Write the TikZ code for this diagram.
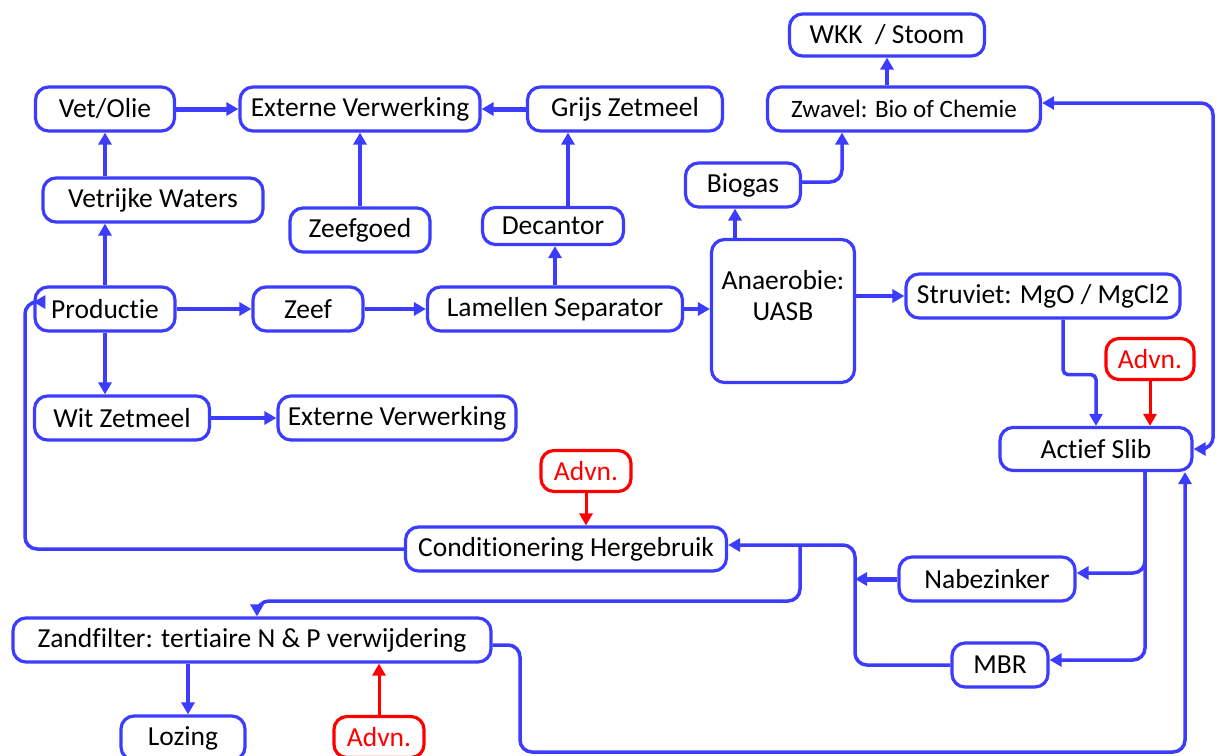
\documentclass[tikz,border=0pt]{standalone}
\usepackage{fontspec}
\setmainfont{Carlito}[Ligatures=NoCommon]
\usetikzlibrary{arrows.meta}
\definecolor{flow}{RGB}{60,60,255}
\definecolor{adv}{RGB}{255,0,0}

\begin{document}
\begin{tikzpicture}[x=1pt,y=-1pt,
  box/.style={draw=flow, line width=3.2pt, rounded corners=13pt, fill=white,
    inner sep=0pt, minimum height=44pt, align=center,
    font=\fontsize{27.5}{31}\selectfont},
  advbox/.style={box, draw=adv, text=adv, minimum width=90pt, minimum height=41pt},
  flowline/.style={draw=flow, line width=3.5pt, rounded corners=12pt,
    -{Triangle[length=12pt,width=13pt]}},
  heavyline/.style={flowline, line width=5pt},
  redline/.style={flowline, draw=adv, line width=3pt}]

\useasboundingbox (0,0) rectangle (1218,755);
\clip (0,0) rectangle (1218,755);

% ---------- process steps ----------
\node[box, minimum width=195pt, minimum height=42pt] (wkk)   at (887,35)  {WKK\ \ / Stoom};
\node[box, minimum width=273pt, font=\fontsize{25}{29}\selectfont] (zwavel) at (904,109) {Zwavel: Bio of Chemie};
\node[box, minimum width=139pt] (vet)    at (105,109) {Vet/Olie};
\node[box, minimum width=240pt] (ext1)   at (360,109) {Externe Verwerking};
\node[box, minimum width=195pt] (grijs)  at (625,109) {Grijs Zetmeel};
\node[box, minimum width=115pt] (biogas) at (743,185) {Biogas};
\node[box, minimum width=220pt] (vetr)   at (153,200) {Vetrijke Waters};
\node[box, minimum width=140pt] (zeefg)  at (360,230) {Zeefgoed};
\node[box, minimum width=141pt, minimum height=37pt] (dec) at (553,226) {Decantor};
\node[box, minimum width=143pt, minimum height=143pt] (uasb) at (783,311) {Anaerobie:\\UASB\\\mbox{}};
\node[box, minimum width=274pt] (struv)  at (1043,296) {Struviet: MgO / MgCl2};
\node[box, minimum width=140pt] (prod)   at (105,309) {Productie};
\node[box, minimum width=110pt] (zeef)   at (308,309) {Zeef};
\node[box, minimum width=255pt] (lam)    at (555,309) {Lamellen Separator};
\node[box, minimum width=175pt] (wit)    at (122,418) {Wit Zetmeel};
\node[box, minimum width=238pt] (ext2)   at (397,418) {Externe Verwerking};
\node[box, minimum width=192pt, minimum height=43pt] (slib) at (1096,449) {Actief Slib};
\node[box, minimum width=321pt] (cond)   at (566,549) {Conditionering Hergebruik};
\node[box, minimum width=176pt] (nabe)   at (987,579) {Nabezinker};
\node[box, minimum width=478pt] (zand)   at (252,640) {Zandfilter: tertiaire N \& P verwijdering};
\node[box, minimum width=96pt]  (mbr)    at (1000,665) {MBR};
\node[box, minimum width=124pt] (loz)    at (183,738) {Lozing};

% ---------- advanced treatment inputs ----------
\node[advbox, minimum width=88pt] (advr) at (1150,359) {Advn.};
\node[advbox] (advm) at (586,471) {Advn.};
\node[advbox] (advb) at (379,737) {Advn.};

% ---------- upper branch ----------
\draw[heavyline] (vet.east) -- (ext1.west);
\draw[heavyline] (grijs.west) -- (ext1.east);
\draw[flowline] (zeefg.north) -- (ext1.south);
\draw[flowline] (vet.south |- vetr.north) -- (vet.south);
\draw[flowline] (prod.north) -- (prod.north |- vetr.south);
\draw[flowline] ([xshift=15pt]dec.north) -- ([xshift=15pt]dec.north |- grijs.south);
\draw[flowline] (lam.north) -- (lam.north |- dec.south);

% ---------- main line ----------
\draw[flowline] (prod.east) -- (zeef.west);
\draw[flowline] (zeef.east) -- (lam.west);
\draw[flowline] (lam.east) -- (lam.east -| uasb.west);
\draw[flowline] (prod.south) -- (prod.south |- wit.north);
\draw[flowline] (wit.east) -- (wit.east -| ext2.west);

% ---------- gas line ----------
\draw[flowline] ([xshift=-48pt]uasb.north) -- ([xshift=-48pt]uasb.north |- biogas.south);
\draw[flowline] ([yshift=3pt]biogas.east) -| ([xshift=-62pt]zwavel.south);
\draw[flowline] (wkk.south |- zwavel.north) -- (wkk.south);
\draw[flowline, {Triangle[length=12pt,width=13pt]}-{Triangle[length=12pt,width=13pt]}]
  ([yshift=6pt]zwavel.east) -- ++(171,0) |- (slib.east);

% ---------- nutrient recovery and aerobic stage ----------
\draw[flowline] (struv.west -| uasb.east) -- (struv.west);
\draw[flowline, rounded corners=5pt] ([xshift=20pt]struv.south) -- ++(0,55) -| (slib.north);
\draw[redline] (advr.south) -- (advr.south |- slib.north);

\draw[flowline] ([xshift=49pt]slib.south) |- ([yshift=6pt]nabe.east);
\draw[flowline] ([xshift=49pt]slib.south) |- ([yshift=5pt]mbr.east);

% ---------- reuse and polishing ----------
\coordinate (merge) at (855,579);
\coordinate (split) at (800,545);
\draw[heavyline] (nabe.west) -- (merge);
\draw[flowline] (mbr.west) -| ([yshift=4pt]cond.east -| merge) -- ([yshift=4pt]cond.east);
\draw[flowline] (split) -- ++(0,56) -| ([xshift=5pt]zand.north);
\draw[flowline] (cond.west) -| (25,302) -- ([yshift=7pt]prod.west);
\draw[redline] (advm.south) -- (advm.south |- cond.north);

\draw[flowline] ([xshift=-64pt]zand.south) -- ([xshift=-64pt]zand.south |- loz.north);
\draw[redline] (advb.north) -- (advb.north |- zand.south);
\draw[flowline] ([yshift=-5pt]zand.east) -| (520,752) -| ([xshift=89pt]slib.south);

\end{tikzpicture}
\end{document}
